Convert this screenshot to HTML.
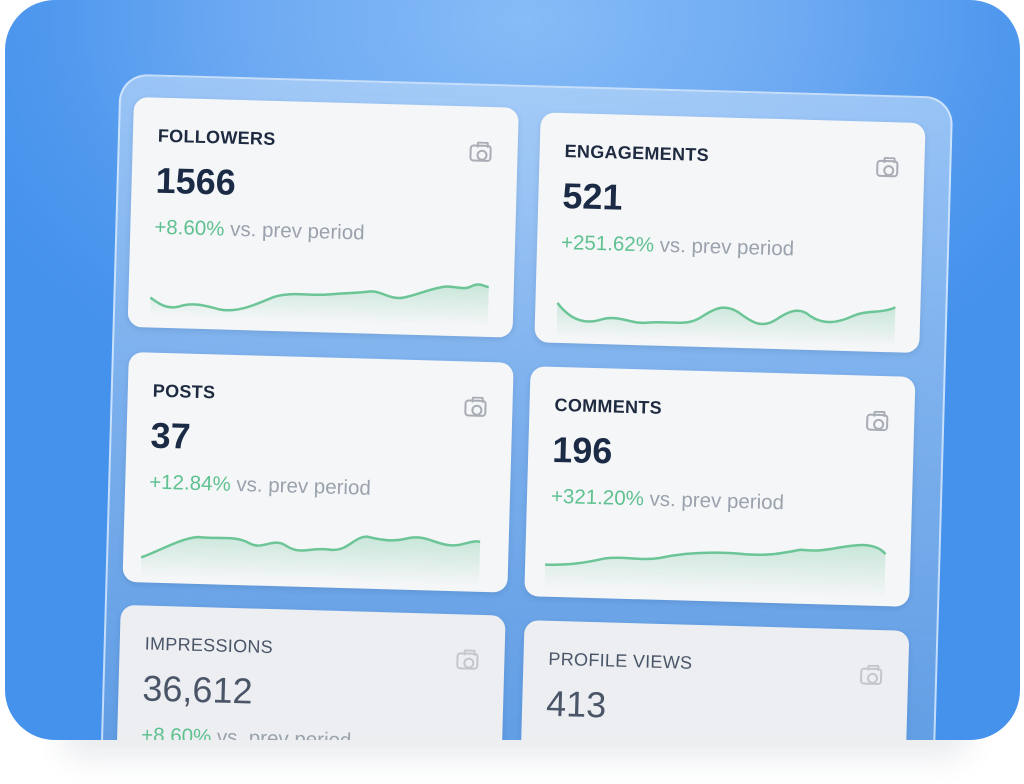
<!DOCTYPE html>
<html><head><meta charset="utf-8"><style>
*{margin:0;padding:0;box-sizing:border-box}
html,body{width:1024px;height:784px;overflow:hidden}
body{background:#fff;font-family:"Liberation Sans",sans-serif;position:relative}
.shadow{position:absolute;left:60px;top:690px;width:910px;height:50px;border-radius:40px;box-shadow:0 18px 30px rgba(40,60,90,0.10)}
.blue{position:absolute;left:5px;top:0;width:1015px;height:740px;border-radius:50px;overflow:hidden;
background:radial-gradient(ellipse 600px 420px at 520px 20px,#86bcf7 0%,#6eaaf2 45%,#4f98ee 80%,#4592ec 100%)}
.rot{position:absolute;left:129px;top:97px;transform-origin:0 0;transform:rotate(1.6deg)}
.panel{position:absolute;left:-15px;top:-23px;width:834px;height:720px;border-radius:28px;border:2px solid rgba(220,236,255,0.8);
background-image:linear-gradient(180deg,rgba(180,212,248,0.7),rgba(110,160,220,0.6))}
.card{position:absolute;width:385px;height:230px;border-radius:14px;background:#f5f6f8;box-shadow:0 2px 6px rgba(30,60,110,0.15)}
.t{position:absolute;left:25px;top:28px;font-size:18px;font-weight:bold;color:#1e2a40;letter-spacing:0.3px}
.n{position:absolute;left:24px;top:62px;font-size:36px;font-weight:bold;color:#1c2b45}
.p{position:absolute;left:24px;top:118px;font-size:20.5px;color:#9aa2ad}
.p b{color:#5fc190;font-weight:normal}
.cam{position:absolute;left:337px;top:38px;width:22px;height:17px;border:2px solid #a8adb5;border-radius:4px}
.cam:after{content:"";position:absolute;left:5px;top:3px;width:7px;height:7px;border:2px solid #a8adb5;border-radius:50%}
.cam:before{content:"";position:absolute;left:5px;top:-5px;width:8px;height:4px;border:2px solid #a8adb5;border-bottom:none;border-radius:2px 2px 0 0}
svg{position:absolute;left:0;top:0}
.fade{background:#eceef1}
.fade .t,.fade .n{color:#4a5568;font-weight:normal}
</style></head><body>
<div class="shadow"></div>
<div class="blue">
<div class="rot">
<div class="panel"></div>

<div class="card" style="left:0;top:0">
<div class="t">FOLLOWERS</div><div class="n">1566</div><div class="p"><b>+8.60%</b> vs. prev period</div><div class="cam"></div>
<svg width="385" height="230"><defs><linearGradient id="g" x1="0" y1="0" x2="0" y2="1"><stop offset="0" stop-color="#5fc190" stop-opacity="0.3"/><stop offset="1" stop-color="#5fc190" stop-opacity="0"/></linearGradient></defs>
<g transform="translate(22,0) scale(0.894,1) translate(-22,0)">
<path d="M22,200 C30,205 40,212 55,208 C70,203 85,207 100,210 C120,213 140,204 160,196 C180,190 200,194 220,192 C240,190 250,190 265,188 C280,186 290,196 305,193 C320,190 330,185 345,182 C360,178 370,185 380,180 C390,175 395,180 400,180 L400,220 L22,220Z" fill="url(#g)"/>
<path d="M22,200 C30,205 40,212 55,208 C70,203 85,207 100,210 C120,213 140,204 160,196 C180,190 200,194 220,192 C240,190 250,190 265,188 C280,186 290,196 305,193 C320,190 330,185 345,182 C360,178 370,185 380,180 C390,175 395,180 400,180" fill="none" stroke="#6cc597" stroke-width="2.5"/></g></svg>
</div>

<div class="card" style="left:407px;top:4px">
<div class="t">ENGAGEMENTS</div><div class="n">521</div><div class="p"><b>+251.62%</b> vs. prev period</div><div class="cam"></div>
<svg width="385" height="230"><g transform="translate(22,0) scale(0.944,1) translate(-22,0)"><path d="M22,190 C35,205 50,212 70,205 C90,200 100,210 120,207 C145,205 160,210 175,200 C190,190 200,186 215,195 C230,205 240,210 255,200 C270,190 280,188 290,196 C305,205 320,202 335,195 C350,188 365,192 380,185 L380,225 L22,225Z" fill="url(#g)"/>
<path d="M22,190 C35,205 50,212 70,205 C90,200 100,210 120,207 C145,205 160,210 175,200 C190,190 200,186 215,195 C230,205 240,210 255,200 C270,190 280,188 290,196 C305,205 320,202 335,195 C350,188 365,192 380,185" fill="none" stroke="#6cc597" stroke-width="2.5"/></g></svg>
</div>

<div class="card" style="left:2px;top:255px">
<div class="t">POSTS</div><div class="n">37</div><div class="p"><b>+12.84%</b> vs. prev period</div><div class="cam"></div>
<svg width="385" height="230"><g transform="translate(18,0) scale(0.94,1) translate(-20,0)"><path d="M20,205 C40,198 60,185 80,183 C100,185 120,180 135,188 C150,195 160,180 175,190 C190,198 200,190 220,192 C240,194 245,178 260,178 C280,182 290,182 305,178 C320,175 330,182 345,184 C360,186 370,178 380,180 L380,225 L20,225Z" fill="url(#g)"/>
<path d="M20,205 C40,198 60,185 80,183 C100,185 120,180 135,188 C150,195 160,180 175,190 C190,198 200,190 220,192 C240,194 245,178 260,178 C280,182 290,182 305,178 C320,175 330,182 345,184 C360,186 370,178 380,180" fill="none" stroke="#6cc597" stroke-width="2.5"/></g></svg>
</div>

<div class="card" style="left:404px;top:258px">
<div class="t">COMMENTS</div><div class="n">196</div><div class="p"><b>+321.20%</b> vs. prev period</div><div class="cam"></div>
<svg width="385" height="230"><path d="M20,198 C45,198 60,195 80,190 C100,187 115,192 135,188 C160,182 190,180 220,182 C245,183 255,180 275,176 C300,178 310,172 330,170 C345,168 355,172 360,178 L360,222 L20,222Z" fill="url(#g)"/>
<path d="M20,198 C45,198 60,195 80,190 C100,187 115,192 135,188 C160,182 190,180 220,182 C245,183 255,180 275,176 C300,178 310,172 330,170 C345,168 355,172 360,178" fill="none" stroke="#6cc597" stroke-width="2.5"/></svg>
</div>

<div class="card fade" style="left:1px;top:508px">
<div class="t">IMPRESSIONS</div><div class="n">36,612</div><div class="p"><b>+8.60%</b> vs. prev period</div><div class="cam" style="opacity:.6"></div>
</div>

<div class="card fade" style="left:405px;top:512px">
<div class="t">PROFILE VIEWS</div><div class="n">413</div><div class="cam" style="opacity:.6"></div>
</div>
</div>
</div>
</body></html>
